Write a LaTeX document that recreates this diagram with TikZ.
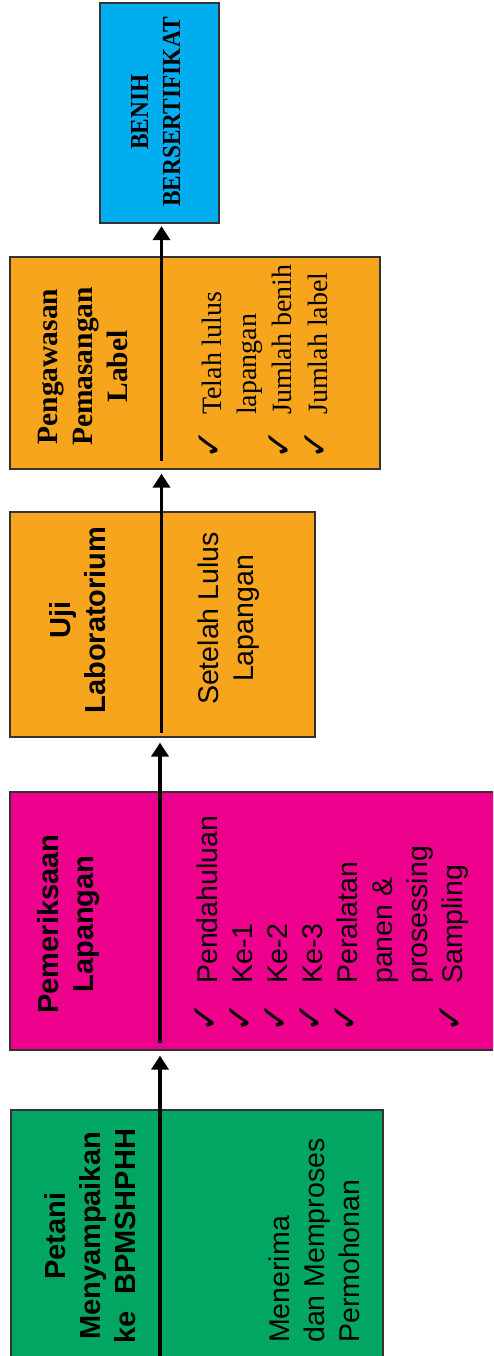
\documentclass[tikz,border=0pt]{standalone}
\usepackage{fontspec}
\setmainfont{Liberation Sans}
\newfontfamily\timesfont{Liberation Serif}
\newfontfamily\timescond[FakeStretch=0.9]{Liberation Serif}
\newfontfamily\checkfont{DejaVu Sans}
\usetikzlibrary{arrows.meta}

\definecolor{boxgreen}{HTML}{00A661}
\definecolor{boxmagenta}{HTML}{EC008C}
\definecolor{boxorange}{HTML}{F7A51D}
\definecolor{boxblue}{HTML}{00AEEF}
\definecolor{boxedge}{HTML}{333333}

% list bullet: tick mark in a fixed-width slot
\newcommand\tickslot[1]{\makebox[#1][l]{\raisebox{0pt}{\checkfont\fontsize{36pt}{36pt}\selectfont\char"2713}}}
\newcommand\noslot[1]{\hspace*{#1}}

\tikzset{
  stagebox/.style={draw=boxedge, line width=1.3pt, inner sep=0pt, rectangle},
  vtext/.style={rotate=90, inner sep=0pt},
  headsans/.style={font={\fontsize{29pt}{35pt}\selectfont\bfseries}},
  bodysans/.style={font={\fontsize{28.5pt}{35pt}\selectfont}},
  headserif/.style={font={\timesfont\fontsize{29.5pt}{35pt}\selectfont\bfseries}},
  bodyserif/.style={font={\timesfont\fontsize{28pt}{35.3pt}\selectfont}},
  flow/.style={line width=3.5pt, -{Triangle[width=17pt,length=14pt]}},
}

\begin{document}
\begin{tikzpicture}[x=1pt,y=-1pt]
\useasboundingbox (0,0) rectangle (493,1356);
\clip (0,0) rectangle (493,1356);

% stage boxes
\node[stagebox, fill=boxgreen,   minimum width=372pt, minimum height=252pt] (petani) at (197,1236) {};
\node[stagebox, fill=boxmagenta, minimum width=490pt, minimum height=258pt] (lapangan) at (255,921) {};
\node[stagebox, fill=boxorange,  minimum width=305pt, minimum height=225pt] (lab) at (162.5,624.5) {};
\node[stagebox, fill=boxorange,  minimum width=370pt, minimum height=212pt] (label) at (195,363) {};
\node[stagebox, fill=boxblue,    minimum width=119pt, minimum height=220pt] (benih) at (159.5,113) {};

% flow line start points
\coordinate (s0) at (160,1360);
\coordinate (s1) at (160,1043);
\coordinate (s2) at (161.5,733);
\coordinate (s3) at (161.5,461);

\draw[flow, shorten >=5pt] (s0) -- (s0 |- lapangan.south);
\draw[flow, shorten >=5pt] (s1) -- (s1 |- lab.south);
\draw[flow, shorten >=4pt] (s2) -- (s2 |- label.south);
\draw[flow, shorten >=2.5pt] (s3) -- (s3 |- benih.south);

% texts of the first stage
\node[vtext, headsans, align=center, anchor=north] (petani-head) at (44,1236)
  {Petani\\Menyampaikan\\ke~~BPMSHPHH};
\node[vtext, bodysans, align=left, anchor=north west] (petani-body) at (268.5,1343)
  {Menerima\\dan Memproses\\Permohonan};

% field inspection
\node[vtext, headsans, align=center, anchor=north] (lapangan-head) at (37.5,924)
  {Pemeriksaan\\Lapangan};
\node[vtext, bodysans, align=left, anchor=south west] (lapangan-body) at (469,1033)
  {\tickslot{49pt}Pendahuluan\\
   \tickslot{49pt}Ke-1\\
   \tickslot{49pt}Ke-2\\
   \tickslot{49pt}Ke-3\\
   \tickslot{49pt}Peralatan\\
   \noslot{49pt}panen \&\\
   \noslot{49pt}prosessing\\
   \tickslot{49pt}Sampling};

% laboratory test
\node[vtext, headsans, align=center, anchor=north] (lab-head) at (49,620)
  {Uji\\Laboratorium};
\node[vtext, bodysans, align=center, anchor=north] (lab-body) at (197.6,618.5)
  {Setelah Lulus\\Lapangan};

% label supervision
\node[vtext, headserif, align=center, anchor=north] (label-head) at (37.5,366.5)
  {Pengawasan\\Pemasangan\\Label};
\node[vtext, bodyserif, align=left, anchor=south west] (label-body) at (327.5,460)
  {\tickslot{45pt}Telah lulus\\
   \noslot{45pt}lapangan\\
   \tickslot{45pt}Jumlah benih\\
   \tickslot{45pt}Jumlah label};

% certified seed
\node[vtext, align=center, anchor=north, font={\timescond\fontsize{26pt}{32pt}\selectfont\bfseries}] (benih-text) at (130.8,112)
  {BENIH\\BERSERTIFIKAT};
\end{tikzpicture}
\end{document}
